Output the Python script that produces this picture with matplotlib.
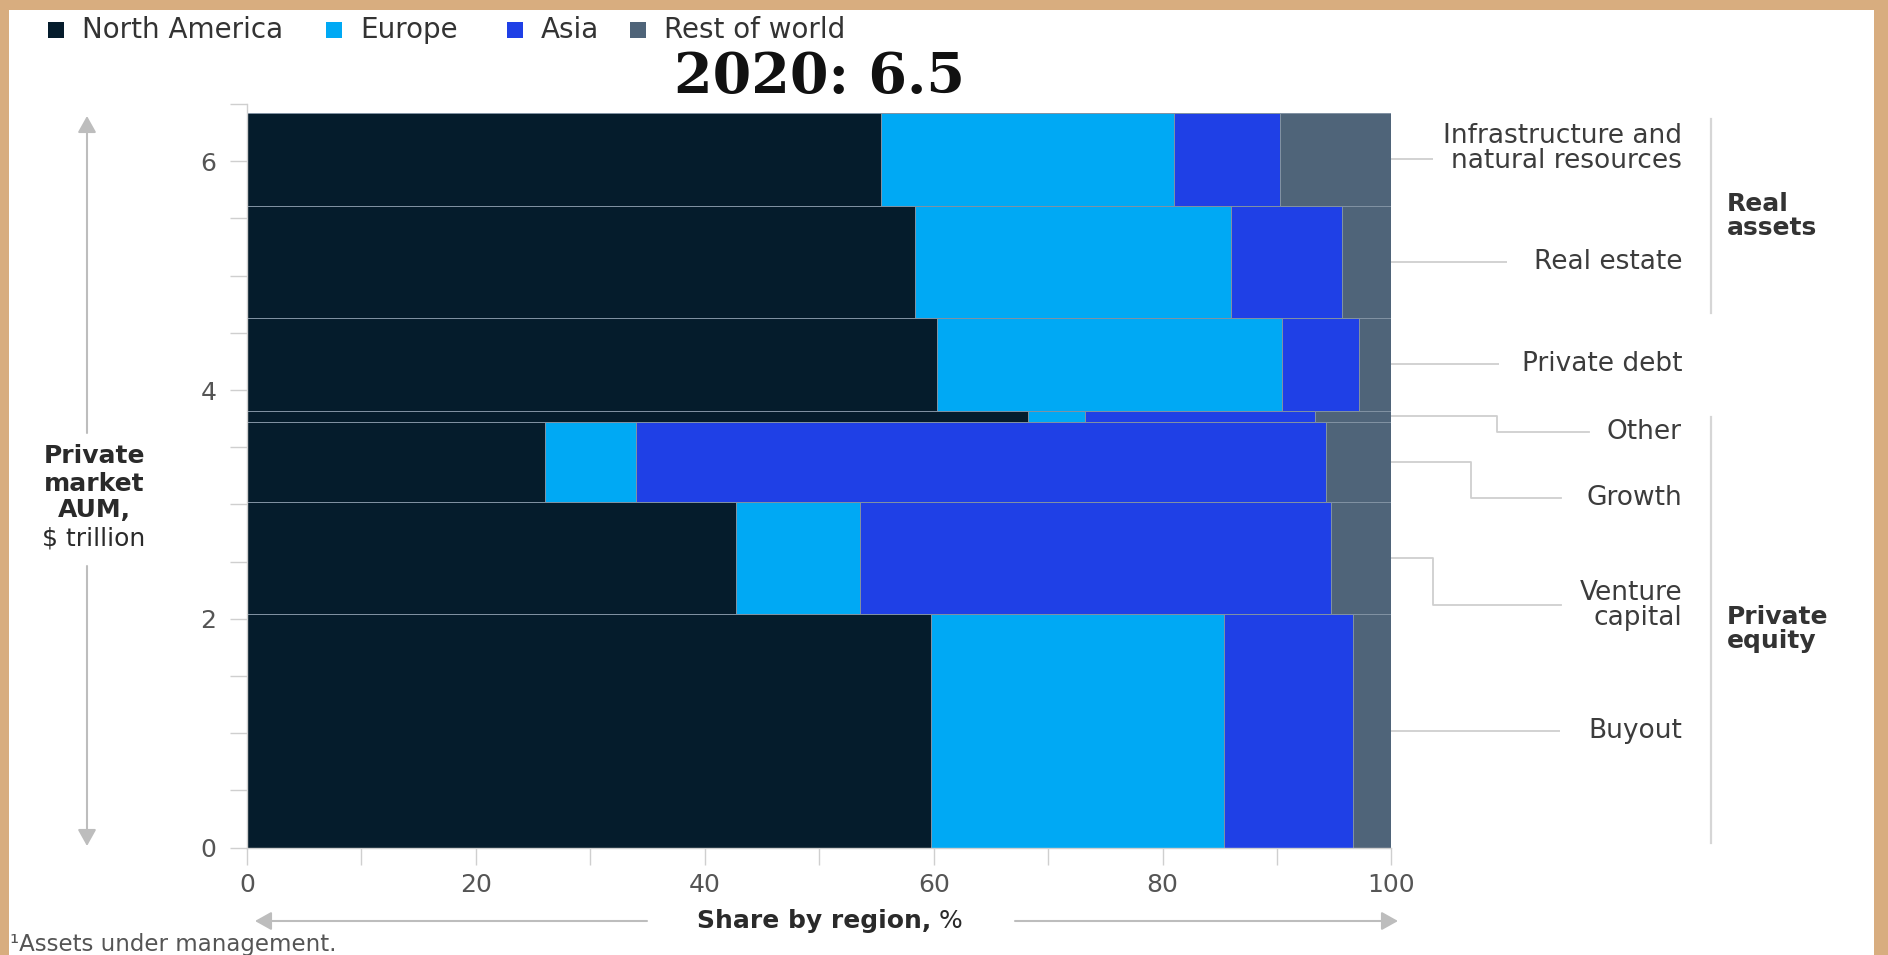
import matplotlib
matplotlib.use("Agg")
import matplotlib.pyplot as plt
from matplotlib.patches import Rectangle, FancyArrowPatch
import numpy as np

# ---- data -------------------------------------------------------------
categories = ["Buyout", "Venture\ncapital", "Growth", "Other", "Private debt",
              "Real estate", "Infrastructure and\nnatural resources"]
aum_trillion = [2.04, 0.98, 0.70, 0.10, 0.81, 0.98, 0.81]   # bar heights, $ trillion
north_america = [59.8, 42.7, 26.0, 68.2, 60.3, 58.4, 55.4]   # % share
europe = [25.6, 10.9, 8.0, 5.0, 30.1, 27.6, 25.6]
asia = [11.2, 41.1, 60.3, 20.1, 6.8, 9.7, 9.3]
rest_of_world = [3.4, 5.3, 5.7, 6.7, 2.8, 4.3, 9.7]
regions = ["North America", "Europe", "Asia", "Rest of world"]
group_names = ["Private\nequity", "Real\nassets"]
group_members = [[0, 1, 2, 3], [5, 6]]
x_major = [0, 20, 40, 60, 80, 100]
y_major = [0, 2, 4, 6]
title = "2020: 6.5"

# ---- style ------------------------------------------------------------
plt.rcParams["font.family"] = ["DejaVu Sans"]
region_colors = ["#051c2c", "#00a9f4", "#1f40e6", "#4f6479"]
W, H, DPI = 1888, 955, 100
GRID = "#cfcfcf"
ARROW = "#bdbdbd"

fig = plt.figure(figsize=(W / DPI, H / DPI), dpi=DPI, facecolor="#d8ad7f")

# full-figure overlay in pixel units (y downwards) for annotations
ov = fig.add_axes([0, 0, 1, 1], zorder=0)
ov.set_xlim(0, W)
ov.set_ylim(H, 0)
ov.axis("off")
ov.add_patch(Rectangle((9, 10), 1865, 960, facecolor="white", edgecolor="none"))

# main chart axes
x0_px, x1_px, y0_px, ytop_px = 247, 1391.5, 847.6, 104
ax = fig.add_axes([x0_px / W, (H - y0_px) / H, (x1_px - x0_px) / W, (y0_px - ytop_px) / H],
                  zorder=1)
ax.patch.set_alpha(0)

aum = np.array(aum_trillion)
bottoms = np.concatenate([[0.0], np.cumsum(aum)[:-1]])
left = np.zeros(len(aum))
for name, vals, col in zip(regions, [north_america, europe, asia, rest_of_world], region_colors):
    vals = np.array(vals)
    ax.barh(bottoms, vals, height=aum, left=left, align="edge", color=col,
            edgecolor="#8192a3", linewidth=0.7, label=name)
    left += vals

ax.set_xlim(0, 100)
ax.set_ylim(0, 6.5)
for s in ["top", "right"]:
    ax.spines[s].set_visible(False)
for s in ["left", "bottom"]:
    ax.spines[s].set_color(GRID)
    ax.spines[s].set_linewidth(1)
ax.set_xticks(x_major)
ax.set_xticks(np.arange(0, 101, 10), minor=True)
ax.set_yticks(y_major)
ax.set_yticks(np.arange(0, 6.51, 0.5), minor=True)
ax.tick_params(axis="both", which="both", length=12, width=1, color=GRID,
               labelcolor="#555555", labelsize=18)
ax.tick_params(axis="x", which="both", pad=6)
ax.tick_params(axis="y", which="both", pad=10)


def to_px(xd, yd):
    px, py = ax.transData.transform((xd, yd))
    return px, H - py


# ---- title ------------------------------------------------------------
ov.text((x0_px + x1_px) / 2, 78, title, family="DejaVu Serif", fontsize=40,
        fontweight="bold", color="#111111", ha="center", va="center")

# ---- legend -----------------------------------------------------------
leg_sq_x = [48, 326, 507, 630]
for name, col, sx in zip(regions, region_colors, leg_sq_x):
    ov.add_patch(Rectangle((sx, 22), 16, 16, facecolor=col, edgecolor="none"))
    ov.text(sx + 34, 30, name, fontsize=20, color="#333333", ha="left", va="center")

# ---- category labels with leader lines ---------------------------------
label_right = 1682
# (leader end x, elbow x, label y offset / absolute y)
leaders = {
    0: (1560, None, None),
    1: (1561, 1433, 605),
    2: (1561, 1471, 498),
    3: (1589, 1497, 432),
    4: (1499, None, None),
    5: (1507, None, None),
    6: (1433, None, -11),
}
mids = bottoms + aum / 2
for i, cat in enumerate(categories):
    bx, by = to_px(100, mids[i])
    end_x, elbow_x, lab = leaders[i]
    if elbow_x is None:
        ov.plot([bx, end_x], [by, by], color=GRID, lw=1.3, solid_capstyle="butt")
        ly = by + (lab if lab is not None else 0)
    else:
        ly = lab
        ov.plot([bx, elbow_x, elbow_x, end_x], [by, by, ly, ly], color=GRID, lw=1.3)
    ov.text(label_right, ly, cat, fontsize=19, color="#3c3c3c", ha="right", va="center",
            multialignment="right", linespacing=0.95)

# ---- group brackets ----------------------------------------------------
for gname, members in zip(group_names, group_members):
    lo = bottoms[min(members)]
    hi = bottoms[max(members)] + aum[max(members)]
    _, py_lo = to_px(100, lo)
    _, py_hi = to_px(100, hi)
    ov.plot([1711, 1711], [py_hi + 6, py_lo - 5], color="#d6d6d6", lw=1.6)
    ov.text(1727, (py_lo + py_hi) / 2, gname, fontsize=18, fontweight="bold",
            color="#333333", ha="left", va="center", linespacing=1.0)

# ---- axis titles with arrows -------------------------------------------
def arrow(p_from, p_to):
    ov.add_patch(FancyArrowPatch(p_from, p_to, arrowstyle="-|>,head_length=0.5,head_width=0.28",
                                 mutation_scale=20, color=ARROW, lw=1.5,
                                 shrinkA=0, shrinkB=0))

yl_x = 94
for txt, yy, wt in [("Private", 456, "bold"), ("market", 484, "bold"),
                    ("AUM,", 510, "bold"), ("$ trillion", 538, "normal")]:
    ov.text(yl_x, yy, txt, fontsize=18, fontweight=wt, color="#2a2a2a",
            ha="center", va="center")
arrow((87, 433), (87, 116))
arrow((87, 566), (87, 846))

xl_y = 921
renderer = fig.canvas.get_renderer()
t_bold = ov.text(0, xl_y, "Share by region,", fontsize=18, fontweight="bold",
                 color="#2a2a2a", ha="left", va="center")
t_pct = ov.text(0, xl_y, " %", fontsize=18, color="#2a2a2a", ha="left", va="center")
wb = t_bold.get_window_extent(renderer).width
wp = t_pct.get_window_extent(renderer).width
start = 830 - (wb + wp) / 2
t_bold.set_x(start)
t_pct.set_x(start + wb)
arrow((647, xl_y), (255, xl_y))
arrow((1015, xl_y), (1398, xl_y))

# ---- footnote ----------------------------------------------------------
ov.text(10, 944, "\u00b9Assets under management.", fontsize=16.5, color="#555555",
        ha="left", va="center")

fig.savefig("out.png", dpi=DPI, facecolor=fig.get_facecolor())
